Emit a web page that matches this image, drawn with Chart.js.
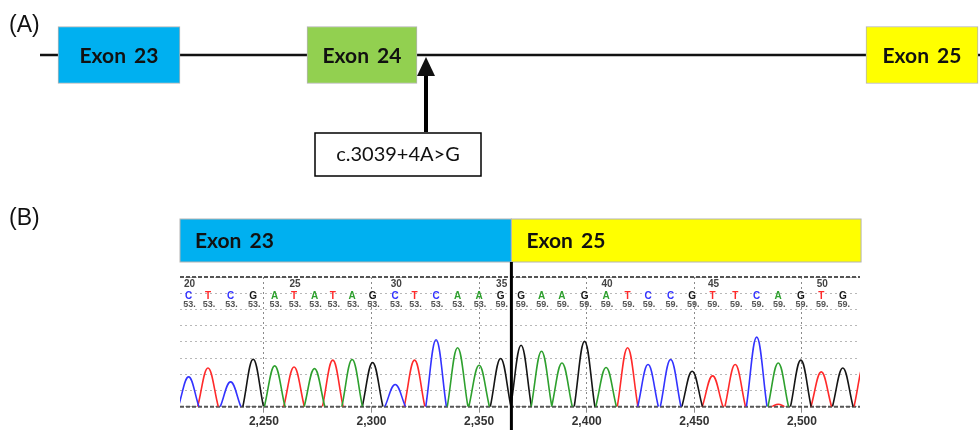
<!DOCTYPE html>
<html>
<head>
<meta charset="utf-8">
<script src="https://cdn.jsdelivr.net/npm/chart.js@4.4.1/dist/chart.umd.min.js"></script>
<style>
  body { margin: 0; background: #fff; }
  #wrap { position: relative; width: 980px; height: 430px; overflow: hidden; }
  canvas { position: absolute; left: 0; }
  .panel { position: absolute; left: 9px; font: 23px 'Liberation Sans', Arial, sans-serif; color: #111; line-height: 1; }
</style>
</head>
<body>
<div id="wrap">
  <canvas id="geneChart" width="980" height="190" style="top:0"></canvas>
  <canvas id="traceChart" width="980" height="240" style="top:190px"></canvas>
  <div class="panel" style="top:13px">(A)</div>
  <div class="panel" style="top:206px">(B)</div>
</div>
<script>
// (A) gene diagram, x in schematic units
const exonNames = ['Exon 23', 'Exon 24', 'Exon 25'];
const exonStart = [58, 307, 866];
const exonEnd = [180, 417, 978];
const exonColors = ['#00B0F0', '#92D050', '#FFFF00'];
const intronStart = 40;
const intronEnd = 980;
const mutationPos = 426;
const mutationLabel = 'c.3039+4A>G';

// (B) chromatogram
const firstBase = 20;
const bases = ['C','T','C','G','A','T','A','T','A','G','C','T','C','A','A','G',
               'G','A','A','G','A','T','C','C','G','T','T','C','A','G','T','G','T'];
const peakPos = [2215, 2224, 2234.5, 2245, 2255, 2264, 2273.5, 2282, 2291, 2300.5, 2311, 2320, 2330, 2340, 2350, 2360,
                 2369.5, 2379, 2388.5, 2399, 2409, 2419, 2428.5, 2439, 2449, 2458.5, 2469, 2479, 2489, 2499.5, 2509, 2519, 2529];
const peakHeight = [1.84, 2.39, 1.53, 2.93, 2.52, 2.45, 2.35, 2.87, 2.91, 2.72, 1.37, 2.87, 4.13, 3.64, 2.56, 2.97,
                    3.79, 3.42, 2.70, 4.03, 2.42, 3.64, 2.60, 2.91, 2.19, 1.90, 2.60, 4.29, 2.70, 2.87, 2.15, 2.39, 2.6];
const quality = [53, 53, 53, 53, 53, 53, 53, 53, 53, 53, 53, 53, 53, 53, 53, 59,
                 59, 59, 59, 59, 59, 59, 59, 59, 59, 59, 59, 59, 59, 59, 59, 59, 59];
const minorBase = ['T'];
const minorPos = [2489];
const minorHeight = [0.15];
const headerNames = ['Exon 23', 'Exon 25'];
const headerStart = [2211, 2365];
const headerEnd = [2365, 2527.5];
const headerColors = ['#00B0F0', '#FFFF00'];
const junctionPos = 2365;

const baseColors = { A: '#2ea02e', C: '#3333ff', G: '#151515', T: '#ff2a2a' };
const labelFont = "'Lato', 'Open Sans', sans-serif";
const smallFont = "'Liberation Sans', Arial, sans-serif";

// ---------- chart A ----------
const genePlugin = {
  id: 'geneDecor',
  beforeDatasetsDraw(chart) {
    const { ctx, scales: { x, y } } = chart;
    const cy = y.getPixelForValue(0);
    ctx.save();
    ctx.strokeStyle = '#111';
    ctx.lineWidth = 2.5;
    ctx.beginPath();
    ctx.moveTo(x.getPixelForValue(intronStart), cy);
    ctx.lineTo(x.getPixelForValue(intronEnd), cy);
    ctx.stroke();
    ctx.restore();
  },
  afterDatasetsDraw(chart) {
    const { ctx, scales: { x, y } } = chart;
    const cy = y.getPixelForValue(0);
    ctx.save();
    ctx.fillStyle = '#111';
    ctx.font = 'bold 21px ' + labelFont;
    ctx.wordSpacing = '3px';
    ctx.textAlign = 'center';
    ctx.textBaseline = 'middle';
    exonNames.forEach((n, i) => {
      const cx = (x.getPixelForValue(exonStart[i]) + x.getPixelForValue(exonEnd[i])) / 2;
      ctx.fillText(n, cx, cy + 1);
    });
    ctx.wordSpacing = '0px';

    // arrow up to the splice site
    const ax = x.getPixelForValue(mutationPos);
    ctx.strokeStyle = '#000';
    ctx.lineWidth = 4;
    ctx.beginPath();
    ctx.moveTo(ax, 132);
    ctx.lineTo(ax, 72);
    ctx.stroke();
    ctx.beginPath();
    ctx.moveTo(ax, 57);
    ctx.lineTo(ax - 9, 76);
    ctx.lineTo(ax + 9, 76);
    ctx.closePath();
    ctx.fill();

    // mutation label box
    ctx.lineWidth = 1.5;
    ctx.fillStyle = '#fff';
    ctx.fillRect(ax - 111, 133, 166, 43);
    ctx.strokeRect(ax - 111, 133, 166, 43);
    ctx.fillStyle = '#111';
    ctx.font = '20px ' + labelFont;
    ctx.fillText(mutationLabel, ax - 28, 155);
    ctx.restore();
  }
};

new Chart(document.getElementById('geneChart'), {
  type: 'bar',
  data: {
    labels: ['gene'],
    datasets: exonNames.map((n, i) => ({
      label: n,
      data: [[exonStart[i], exonEnd[i]]],
      backgroundColor: exonColors[i],
      borderColor: '#b4b4b4',
      borderWidth: 1,
      borderSkipped: false,
      barThickness: 57,
      grouped: false
    }))
  },
  options: {
    indexAxis: 'y',
    responsive: false,
    animation: false,
    layout: { padding: { top: 0, bottom: 80, left: 0, right: 0 } },
    plugins: { legend: { display: false }, tooltip: { enabled: false } },
    scales: {
      x: { type: 'linear', min: 0, max: 980, display: false },
      y: { type: 'category', display: false }
    }
  },
  plugins: [genePlugin]
});

// ---------- chart B ----------
function traceData(base) {
  const pts = [];
  const addPeak = (p, h, w) => {
    pts.push({ x: p - w, y: 0 }, { x: p, y: h }, { x: p + w, y: 0 }, { x: p + w, y: null });
  };
  const all = [];
  bases.forEach((b, i) => { if (b === base) all.push([peakPos[i], peakHeight[i], 4.8]); });
  minorBase.forEach((b, i) => { if (b === base) all.push([minorPos[i], minorHeight[i], 3]); });
  all.sort((a, b) => a[0] - b[0]).forEach(a => addPeak(a[0], a[1], a[2]));
  return pts;
}

const tracePlugin = {
  id: 'traceDecor',
  beforeDatasetsDraw(chart) {
    const { ctx, chartArea: a, scales: { y } } = chart;
    ctx.save();
    ctx.strokeStyle = '#555';
    ctx.lineWidth = 2;
    ctx.setLineDash([4, 2]);
    [0, 8].forEach(v => {
      const py = y.getPixelForValue(v);
      ctx.beginPath();
      ctx.moveTo(a.left, py);
      ctx.lineTo(a.right, py);
      ctx.stroke();
    });
    ctx.restore();
  },
  afterDraw(chart) {
    const { ctx, chartArea: a, scales: { x } } = chart;
    ctx.save();
    // base calls, position numbers, quality values
    ctx.textAlign = 'center';
    ctx.textBaseline = 'middle';
    bases.forEach((b, i) => {
      if (peakPos[i] < x.min || peakPos[i] > x.max - 2) return;
      const px = x.getPixelForValue(peakPos[i]);
      if ((firstBase + i) % 5 === 0) {
        ctx.fillStyle = '#444';
        ctx.font = 'bold 10px ' + smallFont;
        ctx.fillText(String(firstBase + i), px + 1, a.top + 7);
      }
      ctx.fillStyle = baseColors[b];
      ctx.font = 'bold 10px ' + smallFont;
      ctx.fillText(b, px, a.top + 19.5);
      ctx.fillStyle = '#555';
      ctx.font = 'bold 9px ' + smallFont;
      ctx.fillText(String(quality[i]) + '.', px + 1, a.top + 27.5);
    });

    // exon header bars
    headerNames.forEach((n, i) => {
      const x0 = x.getPixelForValue(headerStart[i]);
      const x1 = x.getPixelForValue(headerEnd[i]);
      ctx.fillStyle = headerColors[i];
      ctx.fillRect(x0, a.top - 58, x1 - x0, 43);
      ctx.strokeStyle = '#b4b4b4';
      ctx.lineWidth = 1;
      ctx.strokeRect(x0, a.top - 58, x1 - x0, 43);
      ctx.fillStyle = '#111';
      ctx.font = 'bold 21px ' + labelFont;
      ctx.wordSpacing = '3px';
      ctx.textAlign = 'left';
      ctx.fillText(n, x0 + 15, a.top - 36);
      ctx.wordSpacing = '0px';
    });

    // junction line
    const jx = x.getPixelForValue(junctionPos);
    ctx.strokeStyle = '#000';
    ctx.lineWidth = 3;
    ctx.beginPath();
    ctx.moveTo(jx, a.top - 15);
    ctx.lineTo(jx, chart.height);
    ctx.stroke();
    ctx.restore();
  }
};

new Chart(document.getElementById('traceChart'), {
  type: 'line',
  data: {
    datasets: ['A', 'C', 'G', 'T'].map(b => ({
      label: b,
      data: traceData(b),
      borderColor: baseColors[b],
      borderWidth: 1.6,
      pointRadius: 0,
      tension: 0.4,
      fill: false,
      spanGaps: false
    }))
  },
  options: {
    responsive: false,
    animation: false,
    layout: { padding: { top: 87, bottom: 0, left: 180, right: 120 } },
    plugins: { legend: { display: false }, tooltip: { enabled: false } },
    scales: {
      x: {
        type: 'linear', min: 2211, max: 2527,
        afterFit: s => { s.height = 23.3; },
        grid: { color: '#8a8a8a', lineWidth: 1, tickLength: 6 },
        border: { display: false, dash: [2, 3] },
        ticks: {
          stepSize: 50, includeBounds: false, padding: 2, maxRotation: 0,
          color: '#333', font: { family: smallFont, size: 12, weight: 'bold' }
        }
      },
      y: {
        type: 'linear', min: 0, max: 8,
        afterFit: s => { s.width = 0; },
        grid: { color: '#b8b8b8', lineWidth: 1, drawTicks: false },
        border: { display: false, dash: [2, 3] },
        ticks: { display: false, stepSize: 1 }
      }
    }
  },
  plugins: [tracePlugin]
});
</script>
</body>
</html>
